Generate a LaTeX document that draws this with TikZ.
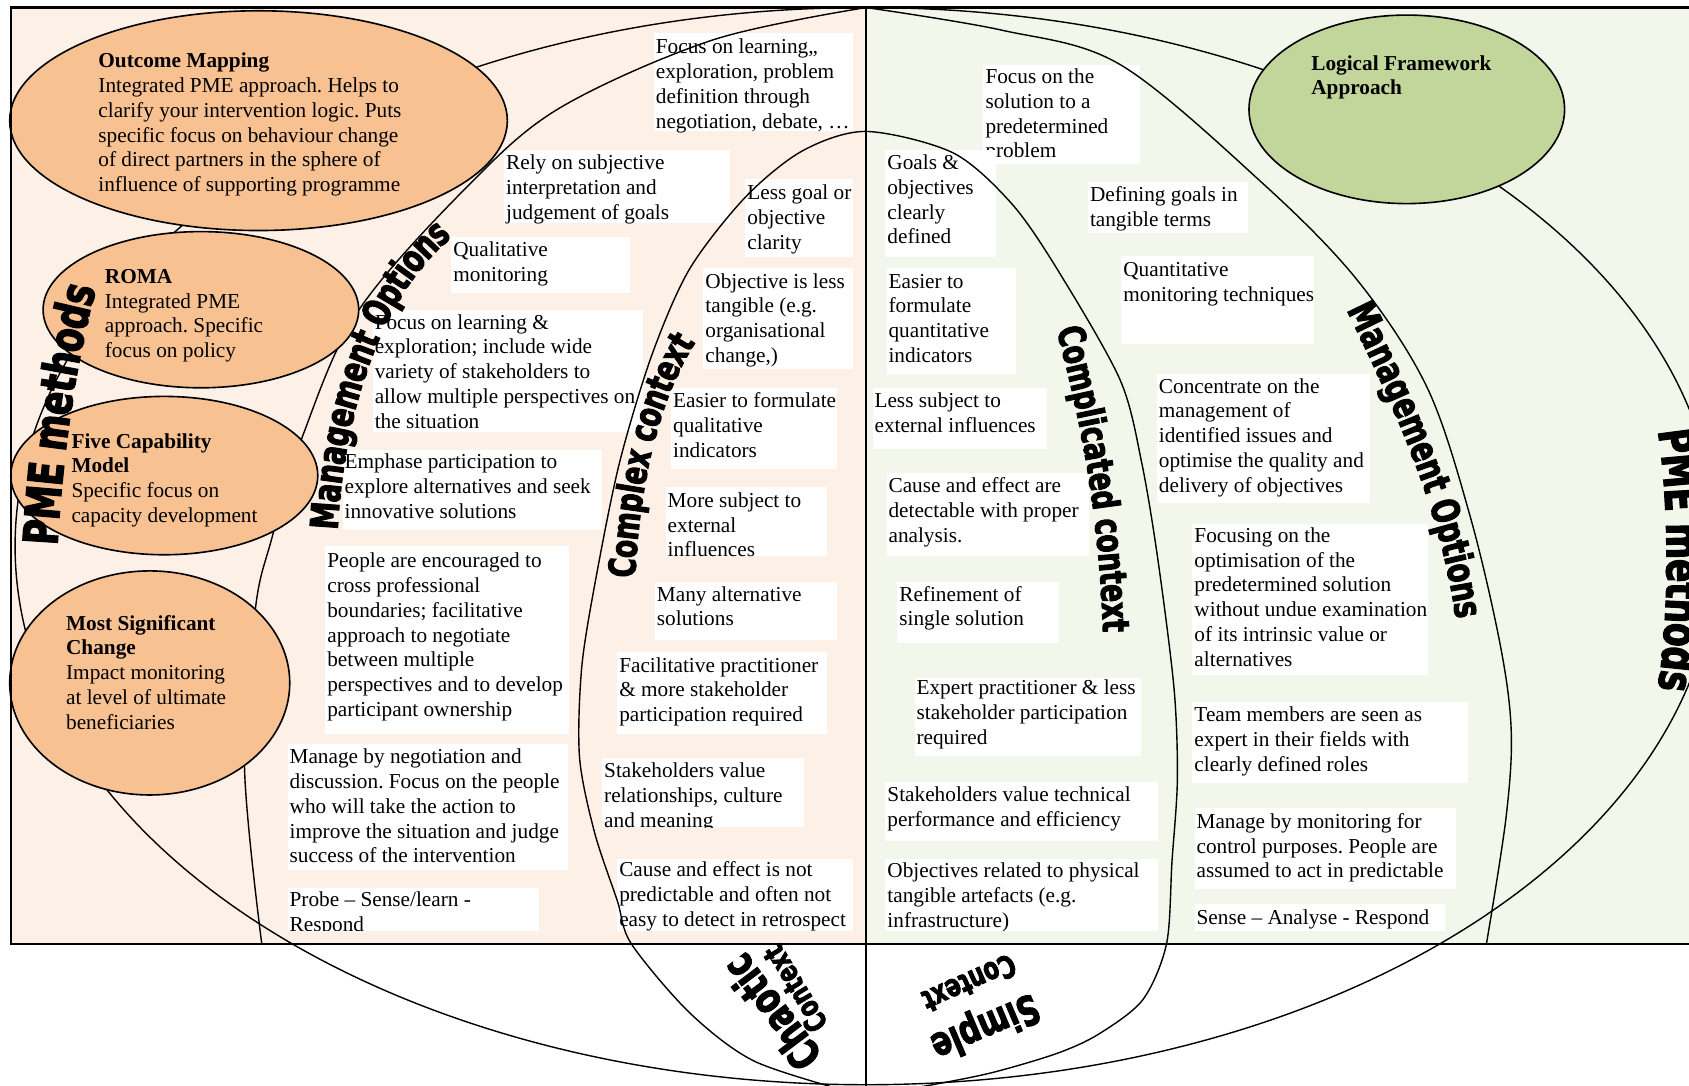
\documentclass[tikz,border=0pt]{standalone}
\usepackage{fontspec}
\setmainfont{Liberation Serif}
\newfontfamily\heavyfont{DejaVu Sans}[FakeStretch=0.72,BoldFeatures={FakeBold=2.5}]
\usetikzlibrary{decorations.text,fit,shapes.geometric}
\definecolor{peach}{HTML}{FDF0E7}
\definecolor{sage}{HTML}{F2F6EB}
\definecolor{ovorange}{HTML}{F8C192}
\definecolor{ovgreen}{HTML}{C2D69B}
\newdimen\pxu \pxu=0.5pt
\newcommand\lblPME{\heavyfont\bfseries\fontsize{22.2}{22}\selectfont}
\newcommand\lblMid{\heavyfont\bfseries\fontsize{17.8}{18}\selectfont}
\newcommand\lblCx{\heavyfont\bfseries\fontsize{17.2}{17}\selectfont}
\tikzset{
  wbox/.style={fill=white,draw=none,inner sep=0pt,outer sep=0pt},
  txt/.style={anchor=base west,inner sep=0pt,font=\fontsize{9.87}{11.5}\selectfont},
  meth/.style={ellipse,draw=black,line width=0.75pt,inner sep=0pt},
  curve/.style={draw=black,line width=0.65pt},
  frame/.style={draw=black,line width=1pt},
  lbl/.style={inner sep=0pt}
}
\newcommand\tb[7]{%
  \node[wbox, fit={(#2,#3) (#4,#5)}] (#1) {};
  \node[txt] (#1t) at (#2+1.5,#6) {\parbox[t]{400\pxu}{\raggedright #7}};}
\newcommand\tbc[7]{%
  \node[wbox, fit={(#2,#3) (#4,#5)}] (#1) {};
  \begin{scope}\clip (#2,#3) rectangle (#4,#5);
  \node[txt] (#1t) at (#2+1.5,#6) {\parbox[t]{400\pxu}{\raggedright #7}};
  \end{scope}}
\frenchspacing
\begin{document}
\frenchspacing
\begin{tikzpicture}[x=0.5pt,y=-0.5pt]
\useasboundingbox (0,0) rectangle (1568,1008);
\clip (0,0) rectangle (1568,1008);
\fill[white] (0,0) rectangle (1568,1008);
\fill[peach] (10,7) rectangle (804,876);
\fill[sage] (804,7) rectangle (1568,876);

% ---------- left boxes
\tb{b1}{607}{31}{792}{122}{50}{Focus on learning,,\\exploration, problem\\definition through\\negotiation, debate, …}
\tb{b2}{468}{139}{678}{207}{157.5}{Rely on subjective\\interpretation and\\judgement of goals}
\tb{b3}{692}{166}{792}{239}{185.5}{Less goal or\\objective\\clarity}
\tbc{b4}{419}{220}{585}{272}{238}{Qualitative\\monitoring}
\tb{b5}{346}{288}{597}{401}{305.5}{Focus on learning \&\\exploration; include wide\\variety of stakeholders to\\allow multiple perspectives on\\the situation}
\tb{b6}{318}{418}{559}{492}{435}{Emphase participation to\\explore alternatives and seek\\innovative solutions}
\tb{b7}{302}{507}{528}{681}{527}{People are encouraged to\\cross professional\\boundaries; facilitative\\approach to negotiate\\between multiple\\perspectives and to develop\\participant ownership}
\tb{b8}{267}{691}{527}{808}{709}{Manage by negotiation and\\discussion. Focus on the people\\who will take the action to\\improve the situation and judge\\success of the intervention}
\tbc{b9}{267}{824}{500}{864}{842}{Probe – Sense/learn -\\Respond}
\tb{b10}{653}{249}{792}{343}{267.5}{Objective is less\\tangible (e.g.\\organisational\\change,)}
\tb{b11}{623}{360}{777}{435}{378.5}{Easier to formulate\\qualitative\\indicators}
\tb{b12}{618}{452}{768}{516}{471}{More subject to\\external\\influences}
\tb{b13}{608}{540}{777}{594}{558}{Many alternative\\solutions}
\tb{b14}{573}{605}{768}{681}{624}{Facilitative practitioner\\\& more stakeholder\\participation required}
\tbc{b15}{559}{704}{746}{768}{722}{Stakeholders value\\relationships, culture\\and meaning}
\tbc{b16}{573}{797}{792}{864}{814}{Cause and effect is not\\predictable and often not\\easy to detect in retrospect}

% ---------- right boxes
\tb{b17}{913}{60}{1058}{152}{77.5}{Focus on the\\solution to a\\predetermined\\problem}
\tb{b18}{822}{139}{925}{239}{157.5}{Goals \&\\objectives\\clearly\\defined}
\tb{b19}{1010}{169}{1159}{216}{187}{Defining goals in\\tangible terms}
\tb{b20}{823}{249}{943}{347}{267.5}{Easier to\\formulate\\quantitative\\indicators}
\tb{b21}{1041}{238}{1220}{319}{256.5}{Quantitative\\monitoring techniques}
\tb{b22}{810}{360}{972}{417}{378.5}{Less subject to\\external influences}
\tb{b23}{1074}{347}{1272}{467}{365}{Concentrate on the\\management of\\identified issues and\\optimise the quality and\\delivery of objectives}
\tb{b24}{823}{439}{1011}{516}{457.5}{Cause and effect are\\detectable with proper\\analysis.}
\tb{b25}{1107}{486}{1326}{627}{503.5}{Focusing on the\\optimisation of the\\predetermined solution\\without undue examination\\of its intrinsic value or\\alternatives}
\tb{b26}{833}{540}{983}{597}{558}{Refinement of\\single solution}
\tb{b27}{849}{629}{1059}{702}{645}{Expert practitioner \& less\\stakeholder participation\\required}
\tb{b28}{1107}{652}{1363}{727}{670}{Team members are seen as\\expert in their fields with\\clearly defined roles}
\tb{b29}{822}{726}{1075}{781}{744.5}{Stakeholders value technical\\performance and efficiency}
\tb{b30}{1109}{750}{1352}{825}{769}{Manage by monitoring for\\control purposes. People are\\assumed to act in predictable}
\tbc{b31}{822}{797}{1075}{864}{815}{Objectives related to physical\\tangible artefacts (e.g.\\infrastructure)}
\tb{b32}{1109}{839}{1341}{864}{858.5}{Sense – Analyse - Respond}

% ---------- curves
\node[ellipse,curve,inner sep=0pt,minimum width=1580\pxu,minimum height=1000\pxu] (outer) at (804,507) {};
\draw[curve] plot[smooth,tension=0.55] coordinates {(804,7) (662,37) (520,100) (434,173) (333,288) (282,402) (252,501) (237,566) (227,712) (243,876)};
\draw[curve] plot[smooth,tension=0.55] coordinates {(804,7) (930,28) (1040,60) (1172,170) (1260,260) (1325,360) (1365,480) (1393,600) (1403,680) (1398,760) (1380,876)};
\draw[curve] plot[smooth,tension=0.5] coordinates {(790,1014) (700,985) (640,940) (586,876) (573,836) (552,773) (538,703) (540,620) (553,538) (575,430) (605,330) (640,250) (692,183) (745,140) (804,122) (885,142) (940,190) (984,254) (1040,353) (1060,430) (1075,520) (1090,640) (1093,724) (1088,800) (1083,876) (1061,928) (1020,960) (981,978) (920,996) (860,1008) (820,1014)};

% ---------- method ellipses
\node[meth,fill=ovorange,minimum width=462\pxu,minimum height=204\pxu] (om) at (240,112) {};
\node[meth,fill=ovorange,minimum width=293\pxu,minimum height=145\pxu] (roma) at (186.5,287.5) {};
\node[meth,fill=ovorange,minimum width=285\pxu,minimum height=147\pxu] (five) at (152.5,441.5) {};
\node[meth,fill=ovorange,minimum width=260\pxu,minimum height=208\pxu] (msc) at (139,634) {};
\node[meth,fill=ovgreen,minimum width=293\pxu,minimum height=175\pxu] (lfa) at (1306,101.5) {};

\node[txt] (omt) at (91,63) {\parbox[t]{400\pxu}{\raggedright\textbf{Outcome Mapping}\\Integrated PME approach. Helps to\\clarify your intervention logic. Puts\\specific focus on behaviour change\\of direct partners in the sphere of\\influence of supporting programme}};
\node[txt] (romat) at (97,263) {\parbox[t]{400\pxu}{\raggedright\textbf{ROMA}\\Integrated PME\\approach. Specific\\focus on policy}};
\node[txt] (fivet) at (66,416) {\parbox[t]{400\pxu}{\raggedright\textbf{Five Capability}\\\textbf{Model}\\Specific focus on\\capacity development}};
\node[txt] (msct) at (61,585) {\parbox[t]{400\pxu}{\raggedright\textbf{Most Significant}\\\textbf{Change}\\Impact monitoring\\at level of ultimate\\beneficiaries}};
\node[txt] (lfat) at (1217,65) {\parbox[t]{400\pxu}{\raggedright\textbf{Logical Framework}\\\textbf{Approach}}};

% ---------- frame
\draw[frame] (1568,7) -- (10,7) -- (10,876) -- (1568,876);
\draw[frame] (804,7) -- (804,1008);

% ---------- curved labels
\path[decorate,decoration={text along path,text={|\lblPME|PME methods},text align=center,raise=-8.1pt}]
  (36,528) .. controls (40,430) and (55,320) .. (80,242);
\path[decorate,decoration={text along path,text={|\lblMid|Management Options},text align=center,raise=-6.5pt}]
  (300,505) .. controls (303,390) and (340,260) .. (422,202);
\path[decorate,decoration={text along path,text={|\lblCx|Complex context},text align=center,raise=-6.3pt}]
  (576,565) .. controls (578,450) and (600,350) .. (652,288);
\path[decorate,decoration={text along path,text={|\lblCx|Complicated context},text align=center,raise=-6.3pt}]
  (988,285) .. controls (1015,380) and (1035,480) .. (1037,605);
\path[decorate,decoration={text along path,text={|\lblMid|Management Options},text align=center,raise=-6.5pt}]
  (1252,262) .. controls (1300,360) and (1355,470) .. (1367,595);
\path[decorate,decoration={text along path,text={|\lblPME|PME methods},text align=center,raise=-8.1pt}]
  (1550,370) .. controls (1568,450) and (1568,590) .. (1550,670);

\node[lbl,font=\heavyfont\bfseries\fontsize{20}{20}\selectfont,rotate=127] (chaotic) at (716,940) {Chaotic};
\node[lbl,font=\heavyfont\bfseries\fontsize{13.9}{14}\selectfont,rotate=121] (ctx1) at (738,918) {Context};
\node[lbl,font=\heavyfont\bfseries\fontsize{18.9}{19}\selectfont,rotate=203] (simple) at (914,952) {Simple};
\node[lbl,font=\heavyfont\bfseries\fontsize{14.4}{14}\selectfont,rotate=204] (ctx2) at (900,913) {Context};
\end{tikzpicture}
\end{document}
